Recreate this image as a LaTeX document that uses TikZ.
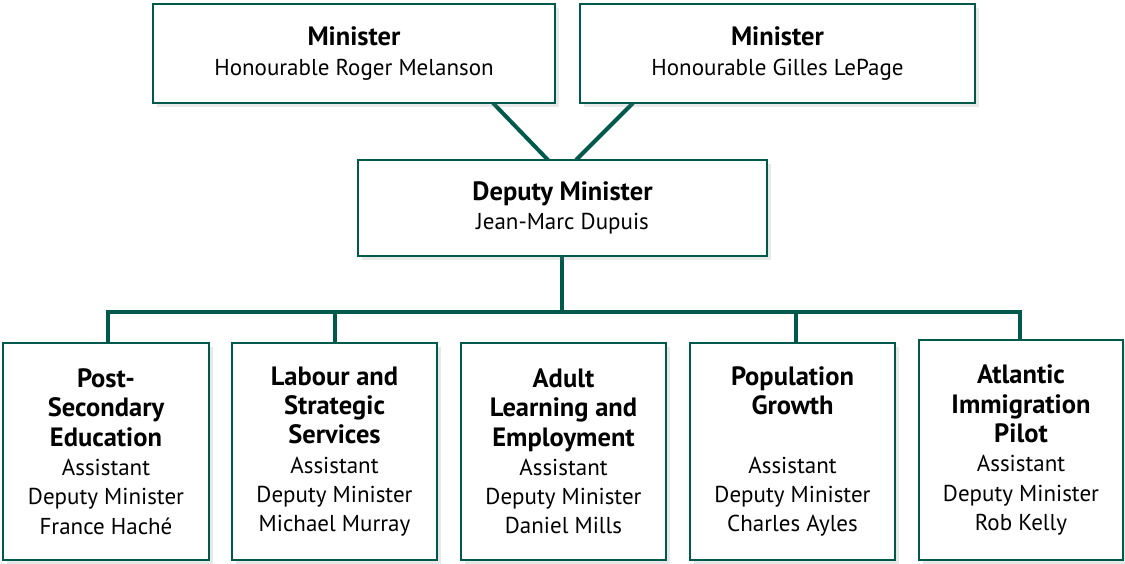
\documentclass[tikz,border=0pt]{standalone}
\usepackage{fontspec}
\setmainfont{PT Sans}
\usetikzlibrary{shadows}
\definecolor{dgreen}{HTML}{005A4C}
\tikzset{
  box/.style={draw=dgreen, line width=2.5pt, fill=white, align=center, inner sep=0pt,
    drop shadow={opacity=0.18, shadow xshift=4pt, shadow yshift=-4pt},
    font=\fontsize{23}{29.3}\selectfont},
  conn/.style={draw=dgreen, line width=4pt},
}
\newcommand{\ttl}[1]{{\bfseries\fontsize{26.5}{29.3}\selectfont #1}}
\begin{document}
\begin{tikzpicture}[x=1pt,y=-1pt]
\useasboundingbox (0,0) rectangle (1125,563);
% connectors first
\coordinate (bl) at (108,312);
\coordinate (br) at (1020,312);
\coordinate (bm) at (562,312);
\draw[conn] (493,103) -- (548,160);
\draw[conn] (633,103) -- (576,160);
\draw[conn] (562,256) -- (bm);
\draw[conn, line join=miter] (108,343) -- (bl) -- (br) -- (1020,340);
\draw[conn] (335,312) -- (335,343);
\draw[conn] (796,312) -- (796,343);
% boxes
\node[box, minimum width=402, minimum height=99] (m1) at (354,53.5)
  {\ttl{Minister}\\Honourable Roger Melanson};
\node[box, minimum width=395, minimum height=99] (m2) at (777.5,53.5)
  {\ttl{Minister}\\Honourable Gilles LePage};
\node[box, minimum width=409, minimum height=96] (dm) at (562.5,208)
  {\ttl{Deputy Minister}\\Jean-Marc Dupuis};
\node[box, minimum width=206, minimum height=217] (b1) at (106,451.5)
  {\ttl{Post-}\\\ttl{Secondary}\\\ttl{Education}\\Assistant\\Deputy Minister\\France Haché};
\node[box, minimum width=205, minimum height=217] (b2) at (334.5,451.5)
  {\ttl{Labour and}\\\ttl{Strategic}\\\ttl{Services}\\Assistant\\Deputy Minister\\Michael Murray};
\node[box, minimum width=205, minimum height=217] (b3) at (563.5,451.5)
  {\ttl{Adult}\\\ttl{Learning and}\\\ttl{Employment}\\Assistant\\Deputy Minister\\Daniel Mills};
\node[box, minimum width=205, minimum height=217] (b4) at (792.5,451.5)
  {\ttl{Population}\\\ttl{Growth}\\\strut\\Assistant\\Deputy Minister\\Charles Ayles};
\node[box, minimum width=204, minimum height=220] (b5) at (1021,450)
  {\ttl{Atlantic}\\\ttl{Immigration}\\\ttl{Pilot}\\Assistant\\Deputy Minister\\Rob Kelly};
\end{tikzpicture}
\end{document}
